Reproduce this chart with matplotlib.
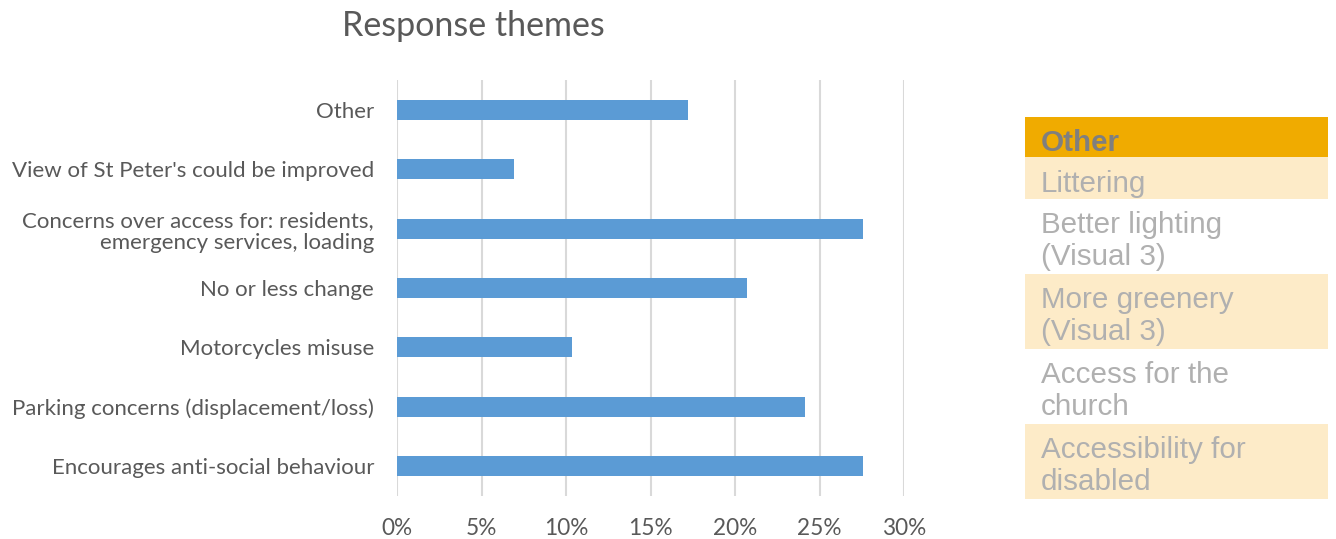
import matplotlib
matplotlib.use("Agg")
import matplotlib.pyplot as plt
from matplotlib.patches import Rectangle
from matplotlib.ticker import PercentFormatter

# ---- data ----
categories = [
    "Other",
    "View of St Peter's could be improved",
    "Concerns over access for: residents,\nemergency services, loading",
    "No or less change",
    "Motorcycles misuse",
    "Parking concerns (displacement/loss)",
    "Encourages anti-social behaviour",
]
shares = [17.24, 6.90, 27.59, 20.69, 10.34, 24.14, 27.59]
x_ticks = [0, 5, 10, 15, 20, 25, 30]
title = "Response themes"

side_items = [
    "Other",
    "Littering",
    "Better lighting\n(Visual 3)",
    "More greenery\n(Visual 3)",
    "Access for the\nchurch",
    "Accessibility for\ndisabled",
]

W, H = 1336, 539
fig = plt.figure(figsize=(W / 100, H / 100), dpi=100)
fig.patch.set_facecolor("white")

TXT = "#595959"
CH_FONT = ["Lato", "DejaVu Sans"]
FS = 16.0

# ---- bar chart ----
ax_l, ax_r, ax_t, ax_b = 397, 904, 80.4, 495.6
ax = fig.add_axes([ax_l / W, (H - ax_b) / H, (ax_r - ax_l) / W, (ax_b - ax_t) / H])
ypos = list(range(len(categories)))
ax.barh(ypos, shares, height=0.34, color="#5B9BD5", zorder=3)
ax.set_ylim(len(categories) - 0.5, -0.5)
ax.set_xlim(x_ticks[0], x_ticks[-1])
ax.set_xticks(x_ticks)
ax.xaxis.set_major_formatter(PercentFormatter(decimals=0))
ax.set_yticks(ypos)
ax.set_yticklabels(categories, fontfamily=CH_FONT, fontsize=FS, color=TXT,
                   linespacing=1.17)
for lab in ax.get_xticklabels():
    lab.set_fontfamily(CH_FONT)
    lab.set_fontsize(16.3)
    lab.set_color(TXT)
ax.tick_params(axis="x", length=0, pad=16)
ax.tick_params(axis="y", length=0, pad=16.5)
ax.grid(axis="x", color="#D9D9D9", linewidth=1.5, zorder=0)
ax.grid(axis="y", visible=False)
for s in ax.spines.values():
    s.set_visible(False)
ax.set_facecolor("none")

fig.text(473 / W, 1 - 26 / H, title, ha="center", va="center",
         fontsize=24.5, color=TXT, fontfamily=CH_FONT)

# ---- side panel ----
p_l, p_r, p_t, p_b = 1025, 1328, 117, 499
pax = fig.add_axes([p_l / W, (H - p_b) / H, (p_r - p_l) / W, (p_b - p_t) / H])
pax.set_xlim(p_l, p_r)
pax.set_ylim(p_b, p_t)
pax.axis("off")
row_edges = [117, 157, 199, 274, 349, 424, 499]
fills = ["#F0AB00", "#FDEBC8", "white", "#FDEBC8", "white", "#FDEBC8"]
for i, item in enumerate(side_items):
    top, bot = row_edges[i], row_edges[i + 1]
    pax.add_patch(Rectangle((p_l, top), p_r - p_l, bot - top,
                            facecolor=fills[i], edgecolor="none"))
    bold = i == 0
    dy = 6 if "\n" not in item else 4.5
    pax.text(1041, (top + bot) / 2 + dy, item, ha="left", va="center",
             fontsize=21.3, fontfamily=["Liberation Sans", "DejaVu Sans"],
             fontweight="bold" if bold else "normal",
             color="#7F7F7F" if bold else "#B0B0B0", linespacing=1.2)

fig.savefig("out.png", dpi=100, facecolor="white")
